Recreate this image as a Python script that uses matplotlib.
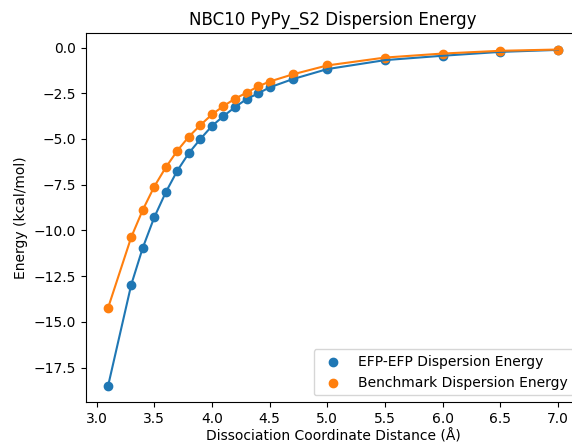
import numpy as np
import matplotlib
matplotlib.use('Agg')
import matplotlib.pyplot as plt

distance = [3.1, 3.3, 3.4, 3.5, 3.6, 3.7, 3.8, 3.9, 4.0, 4.1, 4.2, 4.3, 4.4,
            4.5, 4.7, 5.0, 5.5, 6.0, 6.5, 7.0]
efp_disp = [-18.48, -12.97, -10.95, -9.28, -7.91, -6.73, -5.77, -5.00, -4.29,
            -3.75, -3.26, -2.82, -2.51, -2.18, -1.73, -1.18, -0.69, -0.45,
            -0.24, -0.13]
bench_disp = [-14.22, -10.37, -8.88, -7.60, -6.55, -5.64, -4.87, -4.24, -3.66,
              -3.20, -2.80, -2.47, -2.13, -1.86, -1.47, -0.98, -0.55, -0.33,
              -0.18, -0.11]

fig = plt.figure(figsize=(5.72, 4.44), dpi=100)
ax = fig.add_axes([0.1498, 0.0939, 0.8649, 0.8324])

ax.scatter(distance, efp_disp, color='#1f77b4', label='EFP-EFP Dispersion Energy')
ax.plot(distance, efp_disp, color='#1f77b4')
ax.scatter(distance, bench_disp, color='#ff7f0e', label='Benchmark Dispersion Energy')
ax.plot(distance, bench_disp, color='#ff7f0e')

ax.set_title('NBC10 PyPy_S2 Dispersion Energy')
ax.set_xlabel('Dissociation Coordinate Distance (Å)', labelpad=2.5)
ax.set_ylabel('Energy (kcal/mol)')
ax.legend(loc='lower right')

fig.savefig('out.png', dpi=100)
